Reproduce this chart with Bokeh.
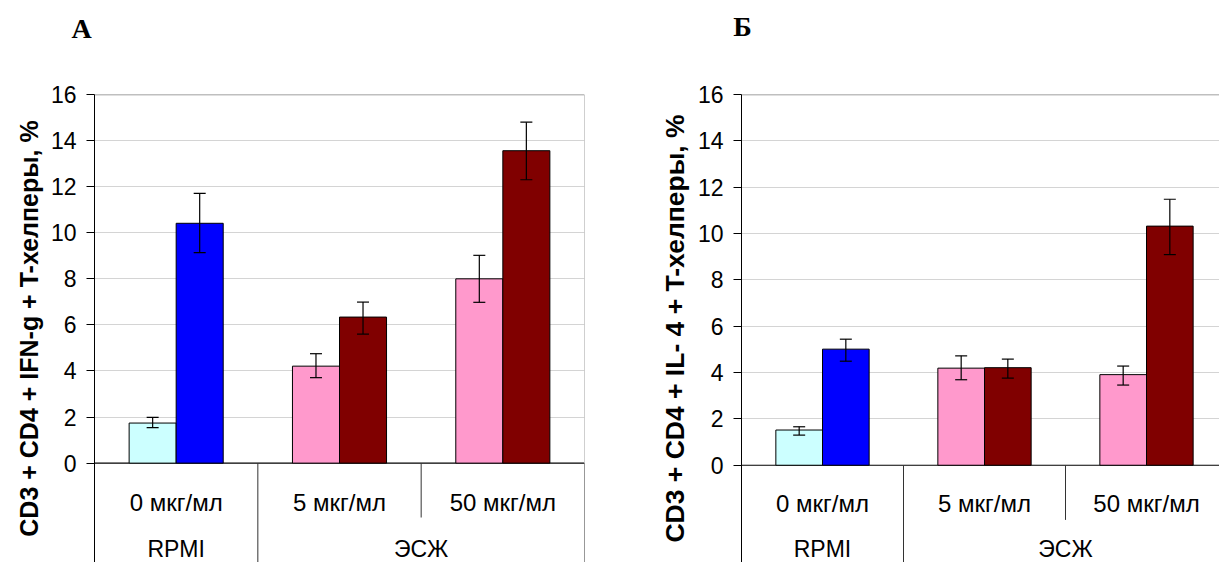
import math
from bokeh.plotting import figure
from bokeh.models import Range1d, FixedTicker, ColumnDataSource, Whisker, TeeHead, Title
from bokeh.layouts import row, column
from bokeh.core.properties import value
from bokeh.embed import file_html
from bokeh.resources import INLINE

# ---------------- data ----------------
doses = ["0 мкг/мл", "5 мкг/мл", "50 мкг/мл"]
media = ["RPMI", "ЭСЖ"]
media_groups = [[0], [1, 2]]          # which dose groups belong to each medium
y_ticks = [0, 2, 4, 6, 8, 10, 12, 14, 16]
panel_letters = ["А", "Б"]

# panel A: CD3+CD4+IFN-g+ T-helpers, %
ifn_first = [1.74, 4.21, 8.00]
ifn_first_lo = [1.54, 3.71, 6.98]
ifn_first_hi = [1.99, 4.75, 9.02]
ifn_second = [10.41, 6.34, 13.56]
ifn_second_lo = [9.14, 5.60, 12.30]
ifn_second_hi = [11.71, 6.99, 14.80]

# panel B: CD3+CD4+IL-4+ T-helpers, %
il4_first = [1.52, 4.19, 3.91]
il4_first_lo = [1.30, 3.69, 3.46]
il4_first_hi = [1.66, 4.72, 4.28]
il4_second = [5.01, 4.21, 10.32]
il4_second_lo = [4.49, 3.76, 9.09]
il4_second_hi = [5.44, 4.58, 11.48]

first_colors = ["#CCFFFF", "#FF99CC", "#FF99CC"]
second_colors = ["#0000FF", "#800000", "#800000"]

FONT = "Liberation Sans"
STRIP_H = 60
CHART_H = 562 - STRIP_H


def letter_strip(letter, width, lx, ly):
    s = figure(width=width, height=STRIP_H, x_range=Range1d(0, width),
               y_range=Range1d(0, STRIP_H), x_axis_location=None,
               y_axis_location=None, toolbar_location=None, output_backend="svg",
               min_border=0)
    s.outline_line_color = None
    s.grid.visible = False
    s.text(x=[lx], y=[STRIP_H - ly], text=[letter],
           text_font=value("Liberation Serif"), text_font_style="bold",
           text_font_size="28px", text_color="black",
           text_align="center", text_baseline="middle")
    return s


def make_panel(ytitle, first, flo, fhi, second, slo, shi,
               width, b_left, b_right, b_top, px_per_unit, x_end,
               title_shift, title_size, row1_y, row2_y, short_div):
    frame_h = 562 - b_top
    y_bottom = 16 - frame_h / px_per_unit
    p = figure(width=width, height=CHART_H,
               x_range=Range1d(0, x_end), y_range=Range1d(y_bottom, 16),
               x_axis_location=None, toolbar_location=None,
               output_backend="svg",
               min_border_left=b_left, min_border_right=b_right,
               min_border_top=b_top - STRIP_H, min_border_bottom=0)
    p.outline_line_color = None
    p.background_fill_color = "white"
    p.border_fill_color = "white"
    p.xgrid.visible = False
    p.ygrid.ticker = FixedTicker(ticks=y_ticks[1:-1])
    p.ygrid.grid_line_color = "#d4d4d4"
    p.ygrid.grid_line_width = 1

    ax = p.yaxis[0]
    ax.ticker = FixedTicker(ticks=y_ticks)
    ax.axis_line_color = "black"
    ax.major_tick_line_color = "black"
    ax.major_tick_out = 8
    ax.major_tick_in = 0
    ax.minor_tick_line_color = None
    ax.major_label_text_font = FONT
    ax.major_label_text_font_size = "23px"
    ax.major_label_text_color = "black"
    ax.major_label_standoff = 10

    # frame lines
    p.segment(x0=[0], y0=[16], x1=[x_end], y1=[16], line_color="#808080", line_width=1.5)
    p.segment(x0=[0], y0=[0], x1=[x_end], y1=[0], line_color="black", line_width=1.2)
    if x_end >= 3:
        p.segment(x0=[3], y0=[0], x1=[3], y1=[16], line_color="#a0a0a0", line_width=1)
    # category dividers below zero
    p.segment(x0=[1, 3], y0=[y_bottom, y_bottom], x1=[1, 3], y1=[0, 0],
              line_color="#333333", line_width=1)
    p.segment(x0=[2], y0=[short_div], x1=[2], y1=[0], line_color="#333333", line_width=1)

    bw = 0.288
    xs1 = [i + 0.5 - bw / 2 for i in range(len(doses))]
    xs2 = [i + 0.5 + bw / 2 for i in range(len(doses))]
    p.vbar(x=xs1, top=first, bottom=0, width=bw, fill_color=first_colors,
           line_color="black", line_width=1)
    p.vbar(x=xs2, top=second, bottom=0, width=bw, fill_color=second_colors,
           line_color="black", line_width=1)

    src = ColumnDataSource(dict(x=xs1 + xs2, lo=flo + slo, hi=fhi + shi))
    w = Whisker(source=src, base="x", lower="lo", upper="hi", level="annotation",
                line_color="black", line_width=1.2,
                upper_head=TeeHead(size=12, line_color="black", line_width=1.2),
                lower_head=TeeHead(size=12, line_color="black", line_width=1.2))
    p.add_layout(w)

    # category labels
    p.text(x=[i + 0.5 for i in range(len(doses))], y=[row1_y] * len(doses), text=doses,
           text_font=value(FONT), text_font_size="24px", text_color="black",
           text_align="center", text_baseline="middle")
    mx = [(g[0] + g[-1] + 1) / 2 for g in media_groups]
    p.text(x=mx, y=[row2_y] * len(media), text=media,
           text_font=value(FONT), text_font_size="23px", text_color="black",
           text_align="center", text_baseline="middle")

    # y title (left side, outside the axis)
    p.add_layout(Title(text=ytitle, align="center", offset=title_shift,
                       text_font=FONT, text_font_style="bold",
                       text_font_size=title_size, text_color="black"), "left")
    return p


pA = make_panel("CD3 + CD4 + IFN-g + T-хелперы, %",
                ifn_first, ifn_first_lo, ifn_first_hi,
                ifn_second, ifn_second_lo, ifn_second_hi,
                width=620, b_left=94, b_right=36, b_top=94, px_per_unit=23.04,
                x_end=3.0, title_shift=31, title_size="25px",
                row1_y=-1.71, row2_y=-3.72, short_div=-2.36)

pB = make_panel("CD3 + CD4 + IL- 4 + T-хелперы, %",
                il4_first, il4_first_lo, il4_first_hi,
                il4_second, il4_second_lo, il4_second_hi,
                width=599, b_left=121, b_right=0, b_top=92, px_per_unit=23.27,
                x_end=478 / 162, title_shift=14, title_size="26.5px",
                row1_y=-1.66, row2_y=-3.62, short_div=-2.36)

sA = letter_strip(panel_letters[0], 620, 81, 27.5)
sB = letter_strip(panel_letters[1], 599, 122, 26)

layout = column(row(sA, sB), row(pA, pB))
open("out.html", "w").write(file_html(layout, INLINE))
